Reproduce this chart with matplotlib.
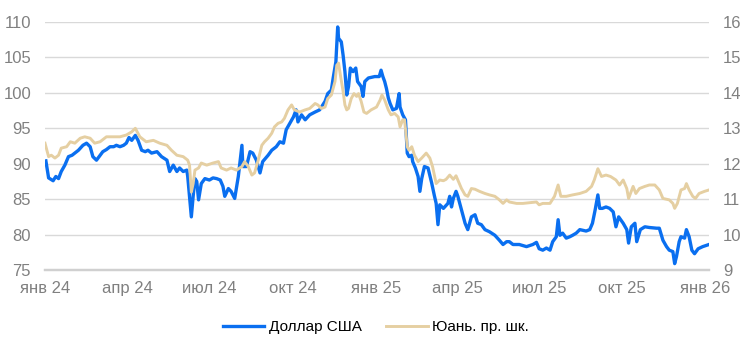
import pandas as pd
import matplotlib.pyplot as plt

# days since 2024-01-01
start = pd.Timestamp('2024-01-01')

usd_days = [1, 4, 9, 12, 15, 18, 22, 26, 30, 33,
            37, 42, 46, 50, 53, 57, 61, 64, 68, 72,
            76, 79, 83, 87, 90, 93, 96, 100, 103, 107,
            111, 114, 118, 124, 129, 135, 138, 142, 146, 149,
            153, 157, 158, 160, 162, 164, 166, 168, 170, 173,
            177, 182, 186, 190, 194, 197, 199, 203, 206, 210,
            214, 218, 219, 223, 227, 230, 234, 238, 241, 247,
            251, 256, 260, 264, 267, 271, 275, 278, 280, 284,
            288, 293, 299, 304, 310, 313, 317, 319, 322, 324,
            325, 328, 330, 332, 334, 336, 338, 341, 344, 346,
            350, 352, 354, 358, 365, 370, 372, 374, 376, 378,
            380, 382, 385, 389, 392, 393, 396, 399, 401, 403,
            406, 407, 410, 413, 415, 417, 420, 424, 428, 431,
            433, 435, 437, 441, 446, 448, 450, 452, 455, 457,
            461, 465, 468, 472, 476, 479, 483, 487, 492, 498,
            503, 507, 511, 514, 518, 525, 533, 540, 544, 547,
            551, 555, 559, 562, 566, 568, 570, 573, 577, 581,
            584, 588, 592, 599, 603, 606, 609, 612, 614, 617,
            621, 625, 629, 632, 635, 640, 644, 646, 649, 653,
            655, 659, 664, 669, 677, 680, 684, 688, 691, 695,
            697, 699, 702, 704, 708, 710, 713, 716, 719, 723,
            728, 735]
usd_values = [90.4, 88.0, 87.6, 88.2, 87.9, 88.9, 89.8, 91.0, 91.2, 91.5,
              91.9, 92.6, 92.9, 92.4, 91.0, 90.5, 91.2, 91.7, 92.0, 92.4,
              92.4, 92.6, 92.4, 92.6, 92.9, 93.7, 93.3, 94.0, 93.3, 91.9,
              91.7, 91.9, 91.5, 91.7, 91.0, 90.5, 88.9, 89.8, 88.9, 89.4,
              88.9, 89.1, 88.2, 85.4, 82.5, 85.4, 87.9, 87.5, 84.9, 87.2,
              87.9, 87.7, 88.0, 87.9, 87.7, 86.8, 85.4, 86.5, 86.1, 85.1,
              88.2, 92.6, 89.6, 89.6, 91.7, 91.5, 90.5, 88.7, 90.3, 91.2,
              91.9, 92.4, 93.1, 92.9, 94.8, 95.7, 96.6, 97.6, 95.9, 96.9,
              96.2, 96.9, 97.3, 97.6, 98.8, 99.9, 100.4, 102.1, 104.4, 109.3,
              107.7, 107.2, 105.3, 103.0, 99.7, 100.9, 103.5, 103.0, 103.5, 101.6,
              100.9, 99.5, 101.6, 102.1, 102.3, 102.3, 103.2, 102.3, 101.6, 100.6,
              99.3, 98.5, 97.6, 97.8, 99.9, 98.0, 96.9, 96.2, 91.5, 91.0,
              91.2, 90.3, 89.4, 88.2, 86.1, 87.9, 89.6, 89.4, 87.3, 85.5,
              84.4, 81.4, 84.2, 83.7, 84.4, 85.4, 83.9, 85.1, 86.1, 85.4,
              83.5, 81.6, 80.7, 82.5, 82.8, 81.6, 81.4, 80.7, 80.4, 79.9,
              79.2, 78.6, 79.0, 79.0, 78.6, 78.6, 78.3, 78.6, 78.9, 78.0,
              77.8, 78.1, 77.8, 79.0, 79.7, 82.1, 79.9, 80.2, 79.5, 79.7,
              79.9, 80.2, 80.7, 80.5, 80.7, 81.6, 83.5, 85.6, 83.7, 83.7,
              83.9, 83.7, 83.2, 81.1, 82.5, 81.6, 80.7, 78.8, 81.1, 81.6,
              79.0, 80.7, 81.1, 81.0, 80.9, 80.9, 79.2, 78.3, 77.8, 77.6,
              75.9, 76.9, 79.0, 79.7, 79.5, 80.7, 79.7, 77.8, 77.3, 78.0,
              78.3, 78.6]

cny_days = [0, 4, 7, 11, 15, 18, 24, 28, 33, 39,
            44, 50, 55, 61, 68, 76, 83, 90, 96, 100,
            105, 112, 120, 127, 135, 140, 146, 153, 158, 160,
            162, 164, 166, 170, 173, 179, 186, 192, 195, 201,
            206, 212, 218, 221, 225, 229, 232, 236, 240, 243,
            247, 251, 254, 258, 262, 265, 269, 273, 276, 282,
            288, 293, 299, 302, 306, 310, 313, 317, 321, 323,
            325, 327, 330, 332, 334, 336, 339, 342, 345, 347,
            350, 353, 356, 361, 367, 371, 373, 376, 380, 383,
            387, 391, 393, 396, 398, 401, 403, 406, 409, 413,
            417, 422, 426, 429, 433, 437, 441, 444, 448, 452,
            455, 457, 461, 465, 468, 472, 476, 481, 487, 492,
            498, 503, 507, 511, 514, 522, 529, 536, 544, 547,
            551, 559, 564, 568, 571, 577, 584, 592, 599, 605,
            608, 612, 616, 621, 626, 632, 636, 640, 644, 646,
            651, 654, 658, 664, 669, 675, 680, 684, 691, 695,
            697, 700, 704, 708, 710, 713, 717, 720, 724, 730,
            735]
cny_values = [12.58, 12.20, 12.24, 12.16, 12.24, 12.44, 12.48, 12.62, 12.58, 12.72,
              12.76, 12.72, 12.58, 12.62, 12.76, 12.76, 12.76, 12.81, 12.90, 13.00,
              12.76, 12.62, 12.66, 12.58, 12.52, 12.38, 12.24, 12.20, 12.10, 11.96,
              11.20, 11.44, 11.82, 11.88, 12.02, 11.96, 12.02, 12.06, 11.88, 11.82,
              11.88, 11.82, 11.92, 12.06, 11.92, 11.68, 11.74, 12.10, 12.52, 12.62,
              12.72, 12.86, 13.04, 13.14, 13.18, 13.28, 13.52, 13.66, 13.52, 13.46,
              13.52, 13.56, 13.70, 13.66, 13.56, 13.60, 13.84, 13.94, 14.32, 14.78,
              14.84, 14.50, 14.04, 13.66, 13.52, 13.56, 13.84, 13.98, 13.90, 13.98,
              13.76, 13.46, 13.42, 13.52, 13.60, 13.80, 13.94, 13.80, 13.52, 13.38,
              13.42, 13.32, 13.04, 13.24, 13.24, 12.48, 12.38, 12.48, 12.24, 12.06,
              12.16, 12.30, 12.16, 11.92, 11.44, 11.54, 11.52, 11.56, 11.68, 11.56,
              11.66, 11.54, 11.30, 11.12, 11.08, 11.30, 11.28, 11.22, 11.16, 11.12,
              11.08, 10.98, 10.88, 10.98, 10.92, 10.88, 10.88, 10.90, 10.92, 10.84,
              10.88, 10.88, 11.08, 11.40, 11.08, 11.08, 11.12, 11.16, 11.22, 11.36,
              11.54, 11.86, 11.64, 11.68, 11.64, 11.54, 11.40, 11.54, 11.30, 11.02,
              11.36, 11.16, 11.30, 11.36, 11.40, 11.40, 11.26, 11.02, 10.98, 10.88,
              10.74, 10.88, 11.26, 11.30, 11.44, 11.26, 11.08, 11.02, 11.16, 11.22,
              11.26]

tick_dates = ['2024-01-01', '2024-04-01', '2024-07-01', '2024-10-01', '2025-01-01',
              '2025-04-01', '2025-07-01', '2025-10-01', '2026-01-01']
tick_labels = ['янв 24', 'апр 24', 'июл 24', 'окт 24', 'янв 25',
               'апр 25', 'июл 25', 'окт 25', 'янв 26']

plt.rcParams['font.family'] = ['Liberation Sans', 'DejaVu Sans']

usd_x = start + pd.to_timedelta(usd_days, unit='D')
cny_x = start + pd.to_timedelta(cny_days, unit='D')

fig = plt.figure(figsize=(7.46, 3.55), dpi=100)
ax = fig.add_axes([0.0603, 0.2394, 0.8901, 0.6986])
ax2 = ax.twinx()

grid_c = '#d9d9d9'
label_c = '#808080'

l1, = ax.plot(usd_x, usd_values, color='#0a6ff0', lw=2.4,
              solid_joinstyle='round', label='Доллар США')
l2, = ax2.plot(cny_x, cny_values, color='#e5cfa2', lw=2.1,
               solid_joinstyle='round', label='Юань. пр. шк.')

ax.set_ylim(75, 110)
ax.set_yticks(range(75, 111, 5))
ax2.set_ylim(9, 16)
ax2.set_yticks(range(9, 17))
ax.set_xlim(start, start + pd.Timedelta(days=735))
ax.set_xticks(pd.to_datetime(tick_dates))
ax.set_xticklabels(tick_labels)

ax.grid(True, axis='y', color=grid_c, lw=1)
ax.set_axisbelow(True)
for a in (ax, ax2):
    for s in ('top', 'left', 'right'):
        a.spines[s].set_visible(False)
    a.spines['bottom'].set_color('#d0d0d0')
    a.spines['bottom'].set_linewidth(1.6)
    a.tick_params(length=0, labelsize=12, labelcolor=label_c)
ax.tick_params(axis='y', pad=10)
ax2.tick_params(axis='y', pad=10)
ax.tick_params(axis='x', pad=8)

fig.legend(handles=[l1, l2], loc='center', bbox_to_anchor=(0.504, 0.079),
           ncol=2, frameon=False, fontsize=11, handlelength=2.7,
           handletextpad=0.3, columnspacing=1.6)

fig.savefig('out.png', dpi=100)
